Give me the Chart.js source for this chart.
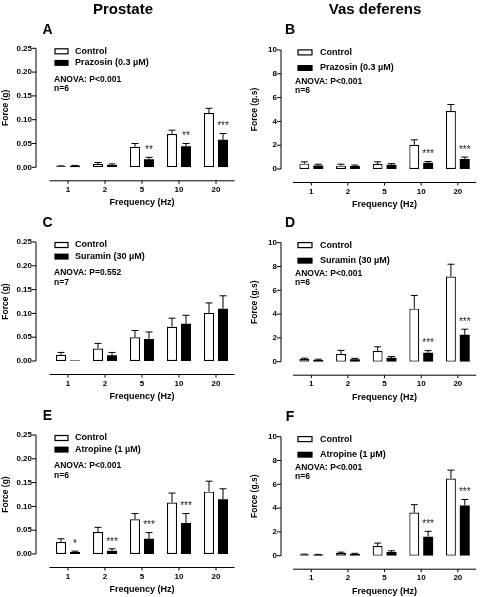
<!DOCTYPE html>
<html>
<head>
<meta charset="utf-8">
<script src="https://cdn.jsdelivr.net/npm/chart.js@4.4.1/dist/chart.umd.min.js"></script>
<style>
  html, body { margin: 0; padding: 0; background: #fff; width: 480px; height: 597px; overflow: hidden; }
  body { position: relative; font-family: "Liberation Sans", Arial, sans-serif; }
  .panel { position: absolute; }
  .head { position: absolute; top: 0; width: 160px; text-align: center; font-weight: bold; font-size: 15px; line-height: 18px; color: #000; z-index: 2; }
</style>
</head>
<body>
<div class="head" style="left:43px">Prostate</div>
<div class="head" style="left:295px">Vas deferens</div>
<div class="panel" style="left:0;top:0"><canvas id="cA" width="240" height="210"></canvas></div>
<div class="panel" style="left:240px;top:0"><canvas id="cB" width="240" height="210"></canvas></div>
<div class="panel" style="left:0;top:210px"><canvas id="cC" width="240" height="195"></canvas></div>
<div class="panel" style="left:240px;top:210px"><canvas id="cD" width="240" height="195"></canvas></div>
<div class="panel" style="left:0;top:405px"><canvas id="cE" width="240" height="192"></canvas></div>
<div class="panel" style="left:240px;top:405px"><canvas id="cF" width="240" height="192"></canvas></div>
<script>
// --- données ---
const freqLabels = ['1', '2', '5', '10', '20'];
const prostateTicks = [0, 0.05, 0.10, 0.15, 0.20, 0.25];
const vasTicks = [0, 2, 4, 6, 8, 10];

// A : prostate, prazosin
const prosPrazCtrl = [0.002, 0.007, 0.043, 0.070, 0.114];
const prosPrazCtrlErr = [0.001, 0.003, 0.007, 0.008, 0.010];
const prosPrazDrug = [0.003, 0.005, 0.017, 0.044, 0.058];
const prosPrazDrugErr = [0.001, 0.002, 0.004, 0.006, 0.013];
const prosPrazSig = ['', '', '**', '**', '***'];

// B : canal déférent, prazosin
const vasPrazCtrl = [0.45, 0.28, 0.42, 2.03, 4.87];
const vasPrazCtrlErr = [0.15, 0.12, 0.18, 0.42, 0.55];
const vasPrazDrug = [0.30, 0.25, 0.35, 0.53, 0.85];
const vasPrazDrugErr = [0.10, 0.08, 0.10, 0.10, 0.15];
const vasPrazSig = ['', '', '', '***', '***'];

// C : prostate, suramine
const prosSurCtrl = [0.013, 0.026, 0.050, 0.072, 0.101];
const prosSurCtrlErr = [0.005, 0.011, 0.014, 0.018, 0.021];
const prosSurDrug = [0.001, 0.012, 0.046, 0.078, 0.110];
const prosSurDrugErr = [0, 0.006, 0.015, 0.018, 0.027];
const prosSurSig = ['', '', '', '', ''];

// D : canal déférent, suramine
const vasSurCtrl = [0.22, 0.65, 0.90, 4.46, 7.16];
const vasSurCtrlErr = [0.08, 0.30, 0.35, 1.11, 1.03];
const vasSurDrug = [0.15, 0.20, 0.33, 0.75, 2.26];
const vasSurDrugErr = [0.06, 0.08, 0.10, 0.18, 0.47];
const vasSurSig = ['', '', '', '***', '***'];

// E : prostate, atropine
const prosAtrCtrl = [0.025, 0.046, 0.073, 0.108, 0.131];
const prosAtrCtrlErr = [0.007, 0.010, 0.012, 0.020, 0.022];
const prosAtrDrug = [0.004, 0.007, 0.032, 0.065, 0.115];
const prosAtrDrugErr = [0.002, 0.004, 0.013, 0.020, 0.022];
const prosAtrSig = ['*', '***', '***', '***', ''];

// F : canal déférent, atropine
const vasAtrCtrl = [0.10, 0.22, 0.81, 3.62, 6.49];
const vasAtrCtrlErr = [0.03, 0.08, 0.25, 0.67, 0.70];
const vasAtrDrug = [0.08, 0.15, 0.31, 1.60, 4.21];
const vasAtrDrugErr = [0.03, 0.05, 0.10, 0.45, 0.51];
const vasAtrSig = ['', '', '', '***', '***'];

const FONT = '"Liberation Sans", Arial, sans-serif';

// --- panneaux (plotTop = haut de la zone de tracé, relatif au canvas) ---
const panels = [
  { id: 'cA', letter: 'A', side: 'L', plotTop: 48.3, yMax: 0.25, ticks: prostateTicks, yTitle: 'Force (g)',
    drug: 'Prazosin (0.3 µM)', ctrl: prosPrazCtrl, ctrlErr: prosPrazCtrlErr, vals: prosPrazDrug, err: prosPrazDrugErr, sig: prosPrazSig,
    anova: 'ANOVA: P<0.001', n: 'n=6' },
  { id: 'cB', letter: 'B', side: 'R', plotTop: 50, yMax: 10, ticks: vasTicks, yTitle: 'Force (g.s)',
    drug: 'Prazosin (0.3 µM)', ctrl: vasPrazCtrl, ctrlErr: vasPrazCtrlErr, vals: vasPrazDrug, err: vasPrazDrugErr, sig: vasPrazSig,
    anova: 'ANOVA: P<0.001', n: 'n=6' },
  { id: 'cC', letter: 'C', side: 'L', plotTop: 32, yMax: 0.25, ticks: prostateTicks, yTitle: 'Force (g)',
    drug: 'Suramin (30 µM)', ctrl: prosSurCtrl, ctrlErr: prosSurCtrlErr, vals: prosSurDrug, err: prosSurDrugErr, sig: prosSurSig,
    anova: 'ANOVA: P=0.552', n: 'n=7' },
  { id: 'cD', letter: 'D', side: 'R', plotTop: 32.7, yMax: 10, ticks: vasTicks, yTitle: 'Force (g.s)',
    drug: 'Suramin (30 µM)', ctrl: vasSurCtrl, ctrlErr: vasSurCtrlErr, vals: vasSurDrug, err: vasSurDrugErr, sig: vasSurSig,
    anova: 'ANOVA: P<0.001', n: 'n=6' },
  { id: 'cE', letter: 'E', side: 'L', plotTop: 30, yMax: 0.25, ticks: prostateTicks, yTitle: 'Force (g)',
    drug: 'Atropine (1 µM)', ctrl: prosAtrCtrl, ctrlErr: prosAtrCtrlErr, vals: prosAtrDrug, err: prosAtrDrugErr, sig: prosAtrSig,
    anova: 'ANOVA: P<0.001', n: 'n=6' },
  { id: 'cF', letter: 'F', side: 'R', plotTop: 31.7, yMax: 10, ticks: vasTicks, yTitle: 'Force (g.s)',
    drug: 'Atropine (1 µM)', ctrl: vasAtrCtrl, ctrlErr: vasAtrCtrlErr, vals: vasAtrDrug, err: vasAtrDrugErr, sig: vasAtrSig,
    anova: 'ANOVA: P<0.001', n: 'n=6' }
];

const PLOT_H = 119;     // hauteur zone de tracé
const X_H = 40.9;       // hauteur de l'axe X (labels + titre)
const X_GAP = 13.5;     // axe X détaché sous le zéro (style Prism)

// layout du texte selon le côté
const sideCfg = {
  L: { yWidth: 49.5, padRight: 5.5, yGap: 13.5, tickPad: 17.5, titlePad: 0.9, letterDx: 11.5, letterDy: -18.5,
       boxDx: 19, boxW: 13, textDx: 39, anovaDx: 18, rows: [3, 14.6, 31, 40.6] },
  R: { yWidth: 53, padRight: 0, yGap: 12, tickPad: 16, titlePad: 9.9, letterDx: 9, letterDy: -19.7,
       boxDx: 17, boxW: 14, textDx: 39, anovaDx: 14, rows: [2.4, 18, 31.3, 40.3] }
};

// Axes détachés, barres d'erreur, étoiles, légende et annotations
const prismPlugin = {
  id: 'prism',
  afterDatasetsDraw(chart, args, o) {
    const ctx = chart.ctx;
    const ys = chart.scales.y, xs = chart.scales.x, area = chart.chartArea;
    const s = o.side;
    ctx.save();
    ctx.strokeStyle = '#000';
    ctx.fillStyle = '#000';
    ctx.lineWidth = 1;

    // barres d'erreur (vers le haut seulement)
    chart.data.datasets.forEach((ds, i) => {
      chart.getDatasetMeta(i).data.forEach((bar, j) => {
        const e = ds.err[j];
        const yTop = ys.getPixelForValue(ds.data[j] + e);
        if (e > 0) {
          ctx.beginPath();
          ctx.moveTo(bar.x, bar.y);
          ctx.lineTo(bar.x, yTop);
          ctx.moveTo(bar.x - 3.5, yTop);
          ctx.lineTo(bar.x + 3.5, yTop);
          ctx.stroke();
        }
        if (ds.sig && ds.sig[j]) {
          ctx.font = '10px ' + FONT;
          ctx.textAlign = 'center';
          ctx.textBaseline = 'middle';
          ctx.fillStyle = '#222';
          ctx.fillText(ds.sig[j], bar.x, yTop - 7);
          ctx.fillStyle = '#000';
        }
      });
    });

    // axe Y (de 0 au max) + graduations
    const x0 = area.left - s.yGap;
    const y0 = ys.getPixelForValue(0);
    ctx.beginPath();
    ctx.moveTo(x0, y0);
    ctx.lineTo(x0, ys.getPixelForValue(o.yMax));
    o.ticks.forEach(v => {
      const y = ys.getPixelForValue(v);
      ctx.moveTo(x0 - 4, y);
      ctx.lineTo(x0, y);
    });
    // axe X détaché
    const xa = y0 + X_GAP;
    ctx.moveTo(area.left, xa);
    ctx.lineTo(area.right, xa);
    freqLabels.forEach((l, i) => {
      const x = xs.getPixelForValue(i);
      ctx.moveTo(x, xa);
      ctx.lineTo(x, xa + 3);
    });
    ctx.stroke();

    // lettre du panneau
    ctx.font = 'bold 14px ' + FONT;
    ctx.textAlign = 'center';
    ctx.textBaseline = 'middle';
    ctx.fillText(o.letter, x0 + s.letterDx, area.top + s.letterDy);

    // légende
    const r = s.rows.map(d => area.top + d);
    ctx.fillStyle = '#fff';
    ctx.fillRect(x0 + s.boxDx, r[0] - 2.5, s.boxW, 5);
    ctx.lineWidth = 1.2;
    ctx.strokeRect(x0 + s.boxDx, r[0] - 2.5, s.boxW, 5);
    ctx.fillStyle = '#000';
    ctx.fillRect(x0 + s.boxDx - 0.6, r[1] - 3, s.boxW + 1.2, 6);
    ctx.font = 'bold 9px ' + FONT;
    ctx.textAlign = 'left';
    ctx.fillText(chart.data.datasets[0].label, x0 + s.textDx, r[0]);
    ctx.fillText(chart.data.datasets[1].label, x0 + s.textDx, r[1]);
    ctx.font = 'bold 8.5px ' + FONT;
    ctx.fillText(o.anova, x0 + s.anovaDx, r[2]);
    ctx.fillText(o.n, x0 + s.anovaDx, r[3]);
    ctx.restore();
  }
};

panels.forEach(p => {
  const s = sideCfg[p.side];
  const cv = document.getElementById(p.id);
  const padBottom = Math.max(0, cv.height - p.plotTop - PLOT_H - X_H);
  const isPros = p.yMax < 1;
  new Chart(cv, {
    type: 'bar',
    data: {
      labels: freqLabels,
      datasets: [
        { label: 'Control', data: p.ctrl, err: p.ctrlErr, backgroundColor: '#fff', borderColor: '#000',
          borderWidth: 1.2, borderSkipped: false },
        { label: p.drug, data: p.vals, err: p.err, sig: p.sig, backgroundColor: '#000', borderColor: '#000',
          borderWidth: 0 }
      ]
    },
    options: {
      responsive: false,
      animation: false,
      categoryPercentage: 0.757,
      barPercentage: 0.714,
      layout: { padding: { left: 0, top: p.plotTop, right: s.padRight, bottom: padBottom } },
      plugins: {
        legend: { display: false },
        title: { display: false },
        tooltip: { enabled: false },
        prism: { side: s, letter: p.letter, anova: p.anova, n: p.n, yMax: p.yMax, ticks: p.ticks }
      },
      scales: {
        x: {
          offset: true,
          grid: { display: false, drawTicks: false },
          border: { display: false },
          ticks: { color: '#000', padding: 17.7, font: { family: FONT, size: 8, weight: 'bold' } },
          title: { display: true, text: 'Frequency (Hz)', color: '#000', padding: { top: 0, bottom: 0 },
                   font: { family: FONT, size: 9, weight: 'bold' } },
          afterFit: sc => { sc.height = X_H; }
        },
        y: {
          min: 0,
          max: p.yMax,
          grid: { display: false, drawTicks: false },
          border: { display: false },
          afterBuildTicks: sc => { sc.ticks = p.ticks.map(v => ({ value: v })); },
          ticks: { color: '#000', padding: s.tickPad, font: { family: FONT, size: 8, weight: 'bold' },
                   callback: v => isPros ? v.toFixed(2) : String(v) },
          title: { display: true, text: p.yTitle, color: '#000', padding: { top: s.titlePad, bottom: 0 },
                   font: { family: FONT, size: 8.5, weight: 'bold' } },
          afterFit: sc => { sc.width = s.yWidth; }
        }
      }
    },
    plugins: [prismPlugin]
  });
});
</script>
</body>
</html>
